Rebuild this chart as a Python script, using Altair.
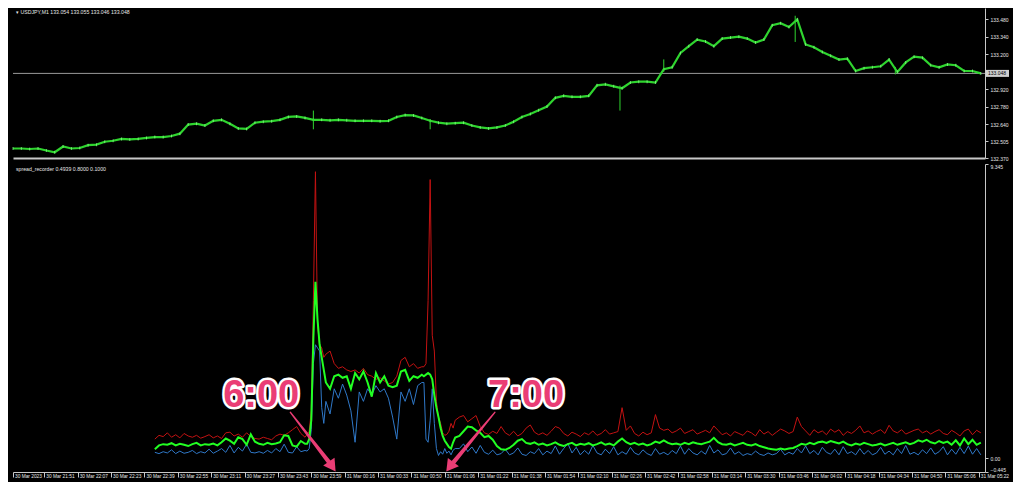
import altair as alt
import pandas as pd

# ---------------- top panel (USDJPY M1) ----------------
price_bars = list(range(0, 465, 4))
price_close = [
    132.446, 132.446, 132.442, 132.446, 132.430, 132.416, 132.462, 132.446, 132.450, 132.473,
    132.477, 132.500, 132.508, 132.523, 132.519, 132.523, 132.531, 132.538, 132.538, 132.546,
    132.565, 132.638, 132.645, 132.630, 132.668, 132.676, 132.645, 132.607, 132.603, 132.653,
    132.661, 132.665, 132.676, 132.699, 132.703, 132.691, 132.676, 132.676, 132.672, 132.676,
    132.672, 132.668, 132.668, 132.668, 132.665, 132.668, 132.699, 132.714, 132.711, 132.691,
    132.668, 132.653, 132.645, 132.649, 132.653, 132.630, 132.615, 132.607, 132.615, 132.630,
    132.661, 132.699, 132.722, 132.753, 132.783, 132.852, 132.868, 132.860, 132.860, 132.868,
    132.952, 132.960, 132.944, 132.929, 132.975, 132.982, 132.982, 132.975, 133.082, 133.097,
    133.212, 133.266, 133.319, 133.304, 133.266, 133.327, 133.335, 133.342, 133.327, 133.296,
    133.319, 133.434, 133.450, 133.420, 133.480, 133.280, 133.258, 133.220, 133.190, 133.159,
    133.166, 133.067, 133.090, 133.097, 133.105, 133.159, 133.059, 133.136, 133.182, 133.174,
    133.113, 133.097, 133.120, 133.113, 133.067, 133.067, 133.048,
]
wick_bars = [144, 200, 291, 312, 375, 423]
wick_low = [132.600, 132.600, 132.750, 133.060, 133.300, 133.040]
wick_high = [132.750, 132.680, 132.950, 133.160, 133.510, 133.100]
bid_price = [133.048]
price_ticks = [132.370, 132.505, 132.640, 132.780, 132.920, 133.200, 133.340, 133.480]
top_title = "\u25be USDJPY,M1  133.054 133.055 133.046 133.048"

# ---------------- bottom panel (spread_recorder) ----------------
spread_bars = (list(range(68, 141, 2)) + list(range(141, 151)) + list(range(152, 197, 2))
               + list(range(197, 213)) + list(range(214, 465, 2)))

spread_max = (
    [0.60, 0.72, 0.68, 0.80, 0.66, 0.74, 0.64, 0.78, 0.70, 0.66,
     0.72, 0.63, 0.68, 0.74, 0.64, 0.70, 0.62, 0.80, 0.82, 0.70,
     0.76, 0.66, 0.80, 0.68, 0.62, 0.60, 0.66, 0.62, 0.58, 0.70,
     0.76, 0.72, 0.80, 0.90, 1.00, 0.78, 0.66]
    + [0.75, 0.85, 1.5, 5.0, 9.1, 4.2, 3.6, 3.5, 3.2, 3.3]
    + [3.4, 3.0, 2.85, 2.9, 2.8, 2.75, 2.8, 2.7, 2.85, 2.65, 2.6, 2.5, 2.55, 2.45, 2.35,
       2.4, 2.6, 3.1, 3.2, 2.9, 3.0, 2.85, 2.9]
    + [2.9, 3.0, 5.0, 8.85, 3.9, 3.4, 1.8, 1.3, 1.1, 0.8, 0.72, 0.75, 0.85, 1.1, 0.95, 1.2]
    + [1.30, 1.35, 1.15, 1.25, 1.35, 1.00, 0.80, 0.75, 0.85, 0.78,
       1.00, 0.80, 0.72, 0.85, 0.70, 0.78, 0.95, 1.05, 0.82, 0.74,
       0.80, 0.72, 0.85, 1.00, 0.95, 0.78, 0.70, 0.82, 0.76, 0.68,
       0.80, 0.74, 0.86, 0.72, 0.78, 0.90, 0.76, 0.80, 0.84, 1.60,
       0.88, 1.02, 0.78, 0.70, 0.82, 0.74, 0.80, 1.38, 0.95, 0.88,
       0.92, 0.80, 0.86, 0.95, 0.78, 0.84, 0.90, 0.76, 0.82, 0.88,
       0.80, 1.02, 0.88, 0.74, 0.80, 0.70, 0.84, 0.78, 0.72, 0.86,
       0.80, 0.70, 0.90, 0.76, 0.84, 0.72, 0.82, 0.92, 0.86, 0.78,
       0.84, 1.30, 1.00, 0.86, 0.72, 0.90, 0.80, 0.86, 0.74, 0.92,
       0.82, 0.90, 0.72, 0.84, 0.78, 0.88, 1.02, 0.80, 0.86, 0.76,
       0.84, 0.90, 0.78, 1.04, 0.86, 0.80, 0.90, 0.76, 0.82, 0.88,
       0.92, 0.80, 0.86, 0.76, 0.84, 0.90, 0.78, 0.74, 0.88, 0.80,
       0.70, 0.86, 0.92, 0.74, 0.88, 0.80]
)
spread_avg = (
    [0.28, 0.40, 0.44, 0.42, 0.47, 0.40, 0.45, 0.42, 0.38, 0.44,
     0.48, 0.40, 0.44, 0.42, 0.46, 0.40, 0.50, 0.62, 0.55, 0.45,
     0.66, 0.60, 0.42, 0.75, 0.52, 0.45, 0.42, 0.48, 0.44, 0.46,
     0.50, 0.72, 0.70, 0.40, 0.36, 0.54, 0.45]
    + [0.45, 0.60, 1.2, 3.8, 5.6, 4.4, 3.6, 3.2, 2.8, 2.4]
    + [2.2, 2.6, 2.65, 2.55, 2.6, 2.2, 2.7, 2.5, 2.75, 2.4, 1.95, 2.7, 2.4, 2.6, 2.3,
       2.25, 2.3, 2.75, 2.8, 2.45, 2.6, 2.55, 2.65]
    + [2.6, 2.65, 2.7, 2.65, 2.5, 2.0, 1.6, 1.3, 0.95, 0.7, 0.55, 0.45, 0.35, 0.3, 0.5, 0.65]
    + [0.70, 0.85, 1.00, 0.98, 0.88, 0.80, 0.66, 0.70, 0.58, 0.38,
       0.28, 0.26, 0.32, 0.42, 0.55, 0.60, 0.48, 0.45, 0.50, 0.42,
       0.46, 0.40, 0.44, 0.50, 0.42, 0.38, 0.44, 0.48, 0.40, 0.45,
       0.42, 0.47, 0.40, 0.44, 0.50, 0.42, 0.46, 0.40, 0.52, 0.62,
       0.50, 0.44, 0.48, 0.42, 0.46, 0.40, 0.44, 0.52, 0.48, 0.56,
       0.48, 0.44, 0.46, 0.42, 0.48, 0.44, 0.50, 0.46, 0.44, 0.48,
       0.52, 0.64, 0.50, 0.44, 0.42, 0.46, 0.40, 0.44, 0.48, 0.42,
       0.40, 0.44, 0.38, 0.34, 0.30, 0.28, 0.26, 0.30, 0.27, 0.30,
       0.32, 0.38, 0.45, 0.42, 0.48, 0.44, 0.50, 0.52, 0.48, 0.54,
       0.50, 0.46, 0.52, 0.44, 0.40, 0.46, 0.42, 0.48, 0.44, 0.40,
       0.42, 0.46, 0.40, 0.44, 0.48, 0.42, 0.46, 0.50, 0.44, 0.48,
       0.56, 0.52, 0.58, 0.50, 0.46, 0.54, 0.48, 0.52, 0.42, 0.56,
       0.40, 0.62, 0.44, 0.58, 0.42, 0.49]
)
spread_min = (
    [0.18, 0.14, 0.20, 0.16, 0.26, 0.14, 0.22, 0.15, 0.18, 0.24,
     0.14, 0.20, 0.16, 0.28, 0.15, 0.22, 0.30, 0.18, 0.40, 0.16,
     0.34, 0.22, 0.44, 0.18, 0.16, 0.20, 0.15, 0.24, 0.16, 0.30,
     0.20, 0.44, 0.18, 0.16, 0.36, 0.20, 0.24]
    + [0.22, 0.30, 0.9, 3.0, 3.6, 3.5, 3.4, 1.6, 1.1, 1.8]
    + [1.4, 2.2, 1.9, 2.35, 2.0, 1.5, 0.5, 2.1, 1.8, 2.2, 2.0, 2.3, 2.1, 2.2, 1.9,
       1.3, 0.6, 2.1, 1.8, 2.2, 1.7, 2.3, 2.4]
    + [2.4, 0.6, 0.5, 1.2, 2.2, 1.1, 0.3, 0.08, 0.2, 0.12, 0.3, 0.15, 0.22, 0.1, 0.25, 0.3]
    + [0.30, 0.45, 0.20, 0.35, 0.15, 0.40, 0.18, 0.12, 0.25, 0.10,
       0.14, 0.28, 0.10, 0.16, 0.32, 0.12, 0.08, 0.20, 0.14, 0.30,
       0.10, 0.22, 0.14, 0.38, 0.12, 0.30, 0.46, 0.16, 0.34, 0.10,
       0.24, 0.12, 0.40, 0.16, 0.10, 0.28, 0.14, 0.36, 0.10, 0.20,
       0.12, 0.34, 0.16, 0.10, 0.26, 0.14, 0.08, 0.30, 0.12, 0.18,
       0.10, 0.24, 0.14, 0.38, 0.12, 0.30, 0.16, 0.10, 0.22, 0.12,
       0.40, 0.16, 0.26, 0.10, 0.14, 0.32, 0.12, 0.20, 0.08, 0.14,
       0.10, 0.22, 0.12, 0.08, 0.16, 0.10, 0.14, 0.28, 0.10, 0.18,
       0.12, 0.30, 0.16, 0.38, 0.14, 0.24, 0.10, 0.34, 0.18, 0.12,
       0.28, 0.10, 0.36, 0.14, 0.20, 0.10, 0.30, 0.12, 0.24, 0.10,
       0.16, 0.34, 0.12, 0.22, 0.10, 0.30, 0.14, 0.40, 0.12, 0.18,
       0.10, 0.26, 0.14, 0.32, 0.12, 0.20, 0.36, 0.10, 0.28, 0.12,
       0.34, 0.14, 0.38, 0.12, 0.30, 0.10]
)
spread_ticks = [-0.445, 0.0, 9.345]
bottom_title = "spread_recorder 0.4939 0.8000 0.1000"

# time axis
tick_bars = [0] + [15 + 16 * k for k in range(29)]
tick_labels = ["30 Mar 2023", "30 Mar 21:51", "30 Mar 22:07", "30 Mar 22:23", "30 Mar 22:39",
               "30 Mar 22:55", "30 Mar 23:11", "30 Mar 23:27", "30 Mar 23:43", "30 Mar 23:59",
               "31 Mar 00:16", "31 Mar 00:33", "31 Mar 00:50", "31 Mar 01:06", "31 Mar 01:22",
               "31 Mar 01:38", "31 Mar 01:54", "31 Mar 02:10", "31 Mar 02:26", "31 Mar 02:42",
               "31 Mar 02:58", "31 Mar 03:14", "31 Mar 03:30", "31 Mar 03:46", "31 Mar 04:02",
               "31 Mar 04:18", "31 Mar 04:34", "31 Mar 04:50", "31 Mar 05:06", "31 Mar 05:22"]

# annotations
note_text = ["6:00", "7:00"]
note_bar = [119.0, 246.0]
note_val = [1.98, 1.98]
arrow_id = ["a", "a", "b", "b"]
arrow_ord = [0, 1, 0, 1]
arrow_bar = [133.0, 152.5, 231.0, 210.0]
arrow_val = [1.45, -0.22, 1.45, -0.23]
arrow_w = [1.5, 4.5, 1.5, 4.5]
head_bar = [152.5, 210.0]
head_val = [-0.22, -0.23]
head_angle = [145.5, 216.7]

# ---------------- styling ----------------
W = 972
H_TOP = 150
H_BOT = 308
N_BARS = 466
FONT = "Liberation Sans"
AX = "#c8c8c8"
LBL = "#e6e6e6"
PINK = "#ea3d75"

xscale = alt.Scale(domain=[0, N_BARS], nice=False, zero=False)
top_scale = alt.Scale(domain=[132.37, 133.572], nice=False, zero=False)
bot_scale = alt.Scale(domain=[-0.445, 9.345], nice=False, zero=False)

x_axis_top = alt.Axis(labels=False, ticks=False, domain=True, domainColor=AX, domainWidth=2,
                      title=None, grid=False, minExtent=1, maxExtent=1)
label_expr = ("[" + ",".join("'" + s + "'" for s in tick_labels) + "][indexof(["
              + ",".join(str(v) for v in tick_bars) + "], datum.value)]")
x_axis_bot = alt.Axis(values=tick_bars, labelExpr=label_expr, labelAlign="left", labelBaseline="top",
                      labelOffset=1.5, labelPadding=-4, tickSize=5, tickColor=AX, domainColor=AX,
                      labelFontSize=4.8, labelFont=FONT, labelColor=LBL, labelOverlap=False,
                      labelFlush=False, title=None, grid=False, minExtent=10, maxExtent=10)
y_axis_top = alt.Axis(orient="right", values=price_ticks, format=".3f", labelFontSize=5,
                      labelFont=FONT, labelColor=LBL, tickColor=AX, tickSize=3, domainColor=AX,
                      labelPadding=2, title=None, grid=False, minExtent=28, maxExtent=28)
y_axis_bot = alt.Axis(orient="right", values=spread_ticks,
                      labelExpr="datum.value == 0 ? '0.00' : format(datum.value, '.3f')",
                      labelFontSize=5, labelFont=FONT, labelColor=LBL, tickColor=AX, tickSize=3,
                      domainColor=AX, labelPadding=2, labelFlush=True, title=None, grid=False,
                      minExtent=28, maxExtent=28)


def xt(f="bar"):
    return alt.X(f + ":Q", scale=xscale, axis=x_axis_top)


def yt(f):
    return alt.Y(f + ":Q", scale=top_scale, axis=y_axis_top)


def xb(f="bar"):
    return alt.X(f + ":Q", scale=xscale, axis=x_axis_bot)


def yb(f):
    return alt.Y(f + ":Q", scale=bot_scale, axis=y_axis_bot)


price_df = pd.DataFrame({"bar": price_bars, "price": price_close})
wick_df = pd.DataFrame({"bar": wick_bars, "low": wick_low, "high": wick_high})
bid_df = pd.DataFrame({"price": bid_price, "label": ["%.3f" % p for p in bid_price]})

price_line = alt.Chart(price_df).mark_line(color="#2fd52f", strokeWidth=2.2).encode(
    x=xt(), y=yt("price"))
price_pts = alt.Chart(price_df).mark_tick(color="#8cff8c", thickness=1, size=3).encode(
    x=xt(), y=yt("price"))
wicks = alt.Chart(wick_df).mark_rule(color="#2fd52f", strokeWidth=1).encode(
    x=xt(), y=yt("low"), y2="high:Q")
bid_line = alt.Chart(bid_df).mark_rule(color="#9a9a9a", strokeWidth=1).encode(y=yt("price"))
bid_box = alt.Chart(bid_df).mark_rect(fill="#d0d0d0", yOffset=-3.5, y2Offset=3.5).encode(
    y=yt("price"), y2="price:Q", x=alt.value(W + 1), x2=alt.value(W + 24))
bid_txt = alt.Chart(bid_df).mark_text(align="left", baseline="middle", fontSize=5, font=FONT,
                                      color="black").encode(
    y=yt("price"), x=alt.value(W + 3), text="label:N")
top_ttl = alt.Chart(pd.DataFrame({"t": [top_title]})).mark_text(
    align="left", baseline="top", fontSize=5.2, font=FONT, color=LBL).encode(
    x=alt.value(3), y=alt.value(2), text="t:N")

top = alt.layer(bid_line, price_line, price_pts, wicks, bid_box, bid_txt, top_ttl).properties(
    width=W, height=H_TOP)

spread_df = pd.DataFrame({"bar": spread_bars, "smax": spread_max, "savg": spread_avg,
                          "smin": spread_min})
red = alt.Chart(spread_df).mark_line(color="#c41212", strokeWidth=1).encode(x=xb(), y=yb("smax"))
blue = alt.Chart(spread_df).mark_line(color="#2f78c8", strokeWidth=1).encode(x=xb(), y=yb("smin"))
green = alt.Chart(spread_df).mark_line(color="#22ff22", strokeWidth=2).encode(x=xb(), y=yb("savg"))

note_df = pd.DataFrame({"bar": note_bar, "val": note_val, "t": note_text})
note_bg = alt.Chart(note_df).mark_text(fontSize=38, font=FONT, fontWeight="bold", color=PINK,
                                       stroke="white", strokeWidth=5, strokeJoin="round",
                                       baseline="middle").encode(
    x=xb(), y=yb("val"), text="t:N")
note_fg = alt.Chart(note_df).mark_text(fontSize=38, font=FONT, fontWeight="bold", color=PINK,
                                       baseline="middle").encode(
    x=xb(), y=yb("val"), text="t:N")
arrow_df = pd.DataFrame({"id": arrow_id, "o": arrow_ord, "bar": arrow_bar, "val": arrow_val,
                         "w": arrow_w})
arrows = alt.Chart(arrow_df).mark_trail(color=PINK).encode(
    x=xb(), y=yb("val"), detail="id:N", order="o:Q",
    size=alt.Size("w:Q", scale=None, legend=None))
head_df = pd.DataFrame({"bar": head_bar, "val": head_val, "a": head_angle})
heads = alt.Chart(head_df).mark_point(shape="triangle", filled=True, size=190, color=PINK,
                                      opacity=1).encode(
    x=xb(), y=yb("val"), angle=alt.Angle("a:Q", scale=None))
bot_ttl = alt.Chart(pd.DataFrame({"t": [bottom_title]})).mark_text(
    align="left", baseline="top", fontSize=5.2, font=FONT, color=LBL).encode(
    x=alt.value(3), y=alt.value(3), text="t:N")

bottom = alt.layer(red, blue, green, arrows, heads, note_bg, note_fg, bot_ttl).properties(
    width=W, height=H_BOT)

chart = alt.vconcat(top, bottom, spacing=2).properties(
    background="black", padding=0).configure_view(stroke=None).configure_axis(grid=False)

chart.save("out.html", embed_options={"renderer": "svg", "actions": False})
